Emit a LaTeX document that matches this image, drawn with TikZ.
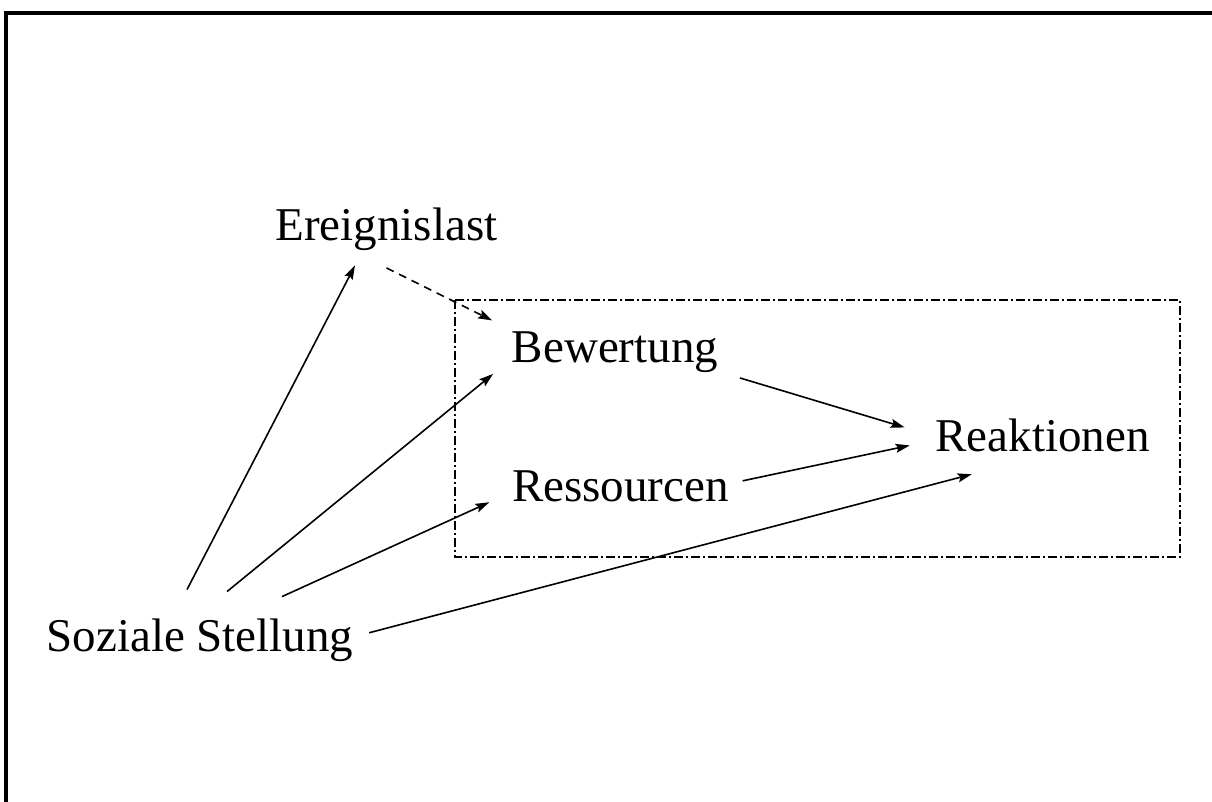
\documentclass[tikz,border=0pt]{standalone}
\usepackage{fontspec}
\setmainfont{Liberation Serif}
\usetikzlibrary{arrows.meta, calc}

\begin{document}
\begin{tikzpicture}[x=0.5pt, y=-0.5pt, line width=0.8pt,
        font=\fontsize{23.5}{28}\selectfont,
        every node/.style={inner sep=0pt, anchor=base},
        arr/.style={-{Stealth[length=7pt, width=4.5pt, inset=1.2pt]}},
        dasharr/.style={arr, dash pattern=on 4pt off 3pt},
        groupbox/.style={dash pattern=on 4.5pt off 1.5pt on 1pt off 1.5pt}]
        \useasboundingbox (0,0) rectangle (1212,802);
        \draw[line width=1.6pt] (1212,13) -- (6,13) -- (6,802);

        \node (ereig) at (386.5, 241) {Ereignislast};
        \node (bew) at (615, 363) {Bewertung};
        \node (res) at (620.5, 502) {Ressourcen};
        \node (reak) at (1042.5, 452) {Reaktionen};
        \node (soz) at (200, 652) {Soziale Stellung};

        \draw[groupbox] (455, 300) rectangle (1180, 557);

        % from Soziale Stellung
        \draw[arr] ($(soz.north)+(-13,-29)$) -- ($(ereig.south)+(-31.5,13.5)$);
        \draw[arr] ($(soz.north)+(27,-27)$) -- ($(bew.south west)+(-18,0)$);
        \draw[arr] ($(soz.north)+(82,-22)$) -- ($(res.south west)+(-22,-1)$);
        \draw[arr] ($(soz.east)+(15,-8)$) -- ($(reak.south west)+(37,21)$);

        \draw[dasharr] ($(ereig.south)+(0,16)$) -- ($(bew.north west)+(-19,-11)$);
        \draw[arr] ($(bew.south east)+(21,4)$) -- ($(reak.west)+(-30,-8.5)$);
        \draw[arr] ($(res.east)+(13,-6)$) -- ($(reak.west)+(-25,9.5)$);
\end{tikzpicture}
\end{document}
